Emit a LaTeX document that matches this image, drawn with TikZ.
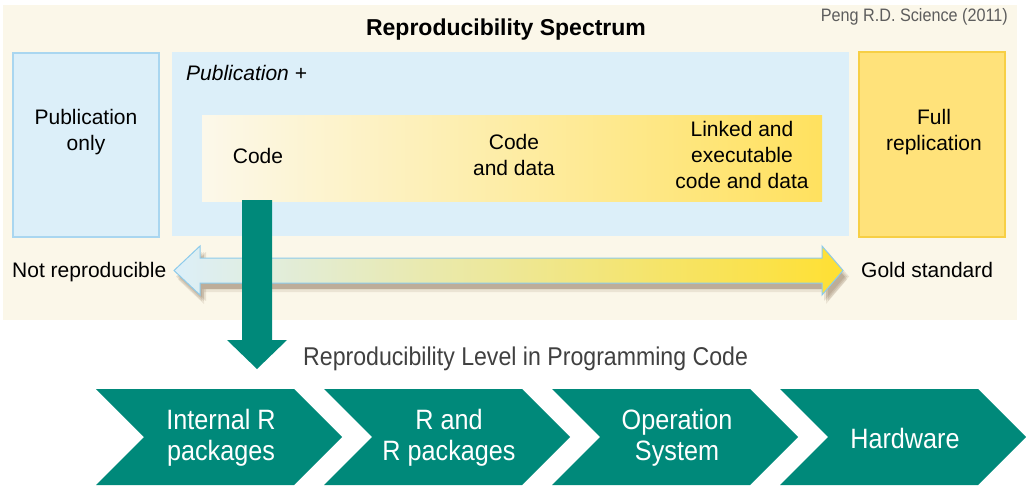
\documentclass[tikz,border=0pt]{standalone}
\usepackage{fontspec}
\setmainfont{Liberation Sans}
\newfontfamily\narrowfont[FakeStretch=0.9]{Liberation Sans}
\usetikzlibrary{shadows}
\definecolor{beige}{HTML}{FBF7E9}
\definecolor{paleblue}{HTML}{DCEFF9}
\definecolor{paleblueline}{HTML}{A9D6F0}
\definecolor{fullgold}{HTML}{FFE27A}
\definecolor{fullgoldline}{HTML}{F7CF45}
\definecolor{creamlight}{HTML}{FCF8EA}
\definecolor{goldbright}{HTML}{FFE15F}
\definecolor{arrowblue}{HTML}{DCEFF9}
\definecolor{arrowgold}{HTML}{FFE033}
\definecolor{arrowline}{HTML}{8DCBEB}
\definecolor{tealfill}{HTML}{00897A}
\definecolor{levelgray}{HTML}{404040}

\begin{document}
\begin{tikzpicture}[x=1pt, y=-1pt,
  panel/.style={draw=paleblueline, line width=1.5pt, fill=paleblue},
  label/.style={align=center, font=\fontsize{21}{26}\selectfont},
  chevron/.style={fill=tealfill},
  chevlabel/.style={align=center, text=white, font=\narrowfont\fontsize{28}{31}\selectfont},
  softshadow/.style={drop shadow={shadow xshift=#1, shadow yshift=-6pt, opacity=.12, fill=brown!50!black}}]
  \useasboundingbox (0,0) rectangle (1026,495);
  % spectrum panel
  \fill[beige] (3,5) rectangle (1017,320);
  \draw[panel] (13,53) rectangle (159,237);
  \fill[paleblue] (172,52) rectangle (849,236);
  \shade[left color=creamlight, right color=goldbright] (202,115) rectangle (822,201);
  \draw[fill=fullgold, draw=fullgoldline, line width=1.5pt] (859,52) rectangle (1005,237);
  \node[font=\bfseries\fontsize{23}{28}\selectfont, anchor=base] (title) at (506,36) {Reproducibility Spectrum};
  \node[font=\narrowfont\fontsize{18}{22}\selectfont, text=levelgray!85, anchor=base east, inner sep=0] (cite) at (1008,22) {Peng R.D. Science (2011)};
  \node[label] (pubonly) at (86,132) {Publication\\only};
  \node[label, font=\itshape\fontsize{21}{26}\selectfont, anchor=base west, inner sep=0] (pubplus) at (186,81) {Publication +};
  \node[label] (code) at (258,156) {Code};
  \node[label] (codedata) at (514,155) {Code\\and data};
  \node[label] (linked) at (742,155) {Linked and\\executable\\code and data};
  \node[label] (fullrep) at (934,132) {Full\\replication};
  \node[label, anchor=base west, inner sep=0] (notrep) at (12,277) {Not reproducible};
  \node[label, anchor=base west, inner sep=0] (gold) at (861,277) {Gold standard};
  % double arrow
  \coordinate (spec west) at (174,270.5);
  \path[left color=arrowblue, right color=arrowgold, draw=arrowline, line width=1pt,
    softshadow=2pt, softshadow=4pt, softshadow=6pt,
    drop shadow={shadow xshift=4pt, shadow yshift=-9pt, opacity=.1, fill=brown!50!black}]
    (spec west) -- ++(26,-24.5) -- ++(0,12) -- ++(622,0) -- ++(0,-12) -- ++(21,24.5)
    -- ++(-21,24.5) -- ++(0,-12) -- ++(-622,0) -- ++(0,12) -- cycle;
  % drop to code level
  \coordinate (drop top) at (257,200);
  \fill[tealfill] (drop top) +(-15,0) -- +(15,0) -- +(15,140) -- +(30,140) -- +(0,169)
    -- +(-30,140) -- +(-15,140) -- cycle;
  \node[font=\narrowfont\fontsize{25.7}{30}\selectfont, text=levelgray, anchor=base west, inner sep=0] (levels) at (303,365) {Reproducibility Level in Programming Code};
  % chevrons
  \foreach \txt [count=\i from 0] in {{Internal R\\packages}, {R and\\R packages}, {Operation\\System}, Hardware} {
    \fill[chevron] (96+228*\i,389) -- ++(198,0) -- ++(48,48) -- ++(-48,48) -- ++(-198,0) -- ++(48,-48) -- cycle;
    \node[chevlabel] (level\i) at (221+228*\i,438) {\txt};
  }
\end{tikzpicture}
\end{document}
